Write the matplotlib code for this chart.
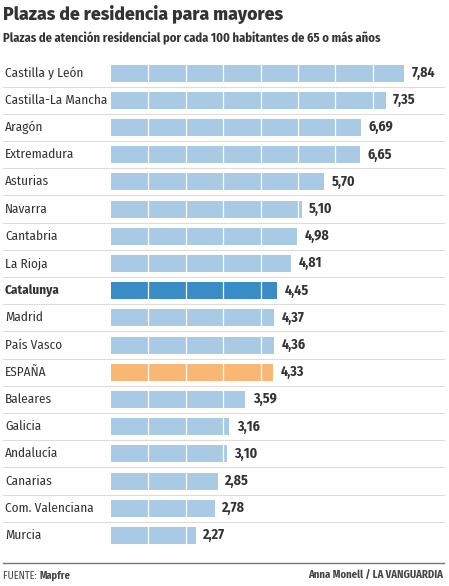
import matplotlib
import matplotlib.pyplot as plt
matplotlib.use('Agg')

cond = ['Fira Sans Condensed', 'Barlow Semi Condensed', 'Asap Condensed', 'DejaVu Sans']
plt.rcParams['font.family'] = cond

regions = ['Castilla y León', 'Castilla-La Mancha', 'Aragón', 'Extremadura', 'Asturias',
           'Navarra', 'Cantabria', 'La Rioja', 'Catalunya', 'Madrid', 'País Vasco',
           'ESPAÑA', 'Baleares', 'Galicia', 'Andalucía', 'Canarias',
           'Com. Valenciana', 'Murcia']
values = [7.84, 7.35, 6.69, 6.65, 5.70, 5.10, 4.98, 4.81, 4.45, 4.37, 4.36,
          4.33, 3.59, 3.16, 3.10, 2.85, 2.78, 2.27]

light = '#a8cae4'
cat_col = '#3a8cc6'
esp_col = '#f8b774'
txt = '#333333'

colors = []
for r in regions:
    if r == 'Catalunya':
        colors.append(cat_col)
    elif r == 'ESPAÑA':
        colors.append(esp_col)
    else:
        colors.append(light)

fig = plt.figure(figsize=(4.49, 5.86), dpi=100)
ax = fig.add_axes([0, 0, 1, 1])
px = 37.4  # pixels per unit
x0 = -111 / px
x1 = (449 - 111) / px
pitch = 27.2
ax.set_xlim(x0, x1)
ax.set_ylim((586 - 73) / pitch, -73 / pitch)
ax.axis('off')

ypos = list(range(len(regions)))
bh = 17 / pitch
ax.barh(ypos, values, height=bh, color=colors, zorder=2)

# white unit lines inside bars
for y, v in zip(ypos, values):
    k = 1
    while k < v:
        ax.plot([k, k], [y - bh / 2, y + bh / 2], color='white', lw=0.9, zorder=3)
        k += 1

# row separators
for y in ypos[:-1]:
    ax.plot([x0 + 3 / px, x1 - 5 / px], [y + 0.5, y + 0.5], color='#dddddd', lw=0.8, zorder=1)
ax.plot([x0 + 3 / px, x1 - 5 / px], [len(regions), len(regions)], color='#777777', lw=1.0, zorder=1)

for y, r, v in zip(ypos, regions, values):
    ax.text(x0 + 5 / px, y, r, ha='left', va='center', fontsize=9.5, color=txt,
            fontweight='bold' if r == 'Catalunya' else 'normal')
    ax.text(v + 0.2, y, f'{v:.2f}'.replace('.', ','), ha='left', va='center',
            fontsize=10, color=txt, fontweight='bold')

fig.text(3 / 449, 1 - 14 / 586, 'Plazas de residencia para mayores', ha='left', va='center',
         fontsize=12.7, fontweight=800, color=txt,
         family=['Fira Sans', 'Liberation Sans', 'DejaVu Sans'])
fig.text(3 / 449, 1 - 38 / 586,
         'Plazas de atención residencial por cada 100 habitantes de 65 o más años',
         ha='left', va='center', fontsize=9, fontweight='bold', color=txt)

t = fig.text(3 / 449, 1 - 576 / 586, 'FUENTE: ', ha='left', va='center', fontsize=7.5, color='#444444')
fig.canvas.draw()
bb = t.get_window_extent()
fig.text(bb.x1 / 449, 1 - 576 / 586, 'Mapfre', ha='left', va='center', fontsize=7.5,
         fontweight='bold', color='#444444')
fig.text(443 / 449, 1 - 576 / 586, 'Anna Monell / LA VANGUARDIA', ha='right', va='center',
         fontsize=7.7, fontweight='bold', color='#444444')

fig.savefig('out.png', dpi=100)
